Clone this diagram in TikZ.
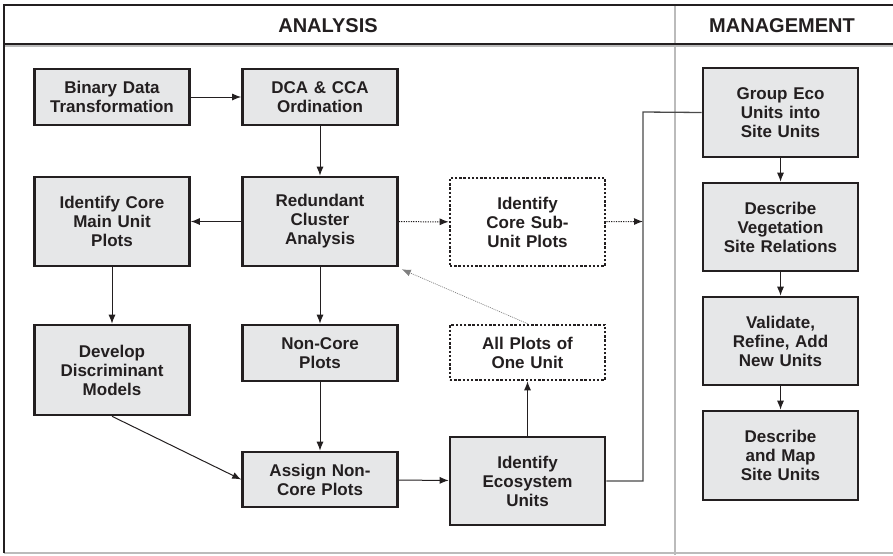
\documentclass[tikz,border=0pt]{standalone}
\usepackage{fontspec}
\setmainfont{Liberation Sans}
\usetikzlibrary{arrows.meta}
\definecolor{ink}{HTML}{231F20}
\definecolor{boxfill}{HTML}{E6E7E8}
\definecolor{rule}{HTML}{BBBBBB}
\definecolor{link}{HTML}{4A4A4A}
\tikzset{
  stepbox/.style={draw=ink, line width=2.6pt, fill=boxfill, inner sep=0pt,
    minimum width=155pt, text width=150pt, align=center, text=ink,
    font=\bfseries\fontsize{17}{19}\selectfont},
  optbox/.style={stepbox, fill=white, dash pattern=on 2.4pt off 1.8pt},
  flow/.style={draw=ink, line width=1pt, -{Latex[length=9pt,width=7pt]}},
  optflow/.style={flow, dash pattern=on 1.2pt off 1.2pt},
  hint/.style={draw=gray, line width=0.7pt, dash pattern=on 1pt off 1pt, -{Latex[length=9pt,width=7pt]}},
  head/.style={text=ink, font=\bfseries\fontsize{20}{22}\selectfont}
}
\begin{document}
\begin{tikzpicture}[x=1pt, y=-1pt]
\useasboundingbox (0,0) rectangle (893,555);
% frame and column headers
\draw[rule, line width=1.5pt] (675,5) -- (675,555);
\draw[rule, line width=1.2pt] (4,553) -- (893,553);
\draw[rule, line width=1.5pt] (4,46) -- (893,46);
\draw[ink, line width=1.8pt] (4,44) -- (893,44);
\draw[ink, line width=2.4pt] (3,5) -- (893,5);
\draw[ink, line width=2.4pt] (4,4) -- (4,553);
\node[head] (hA) at (328,26) {ANALYSIS};
\node[head] (hM) at (782,26) {MANAGEMENT};
% analysis steps
\node[stepbox, minimum height=56pt] (bin) at (112,97) {Binary Data\\Transformation};
\node[stepbox, minimum height=56pt] (dca) at (320,97) {DCA \& CCA\\Ordination};
\node[stepbox, minimum height=89pt] (core) at (112,221.5) {Identify Core\\Main Unit\\Plots};
\node[stepbox, minimum height=89pt] (red) at (320,221.5) {Redundant\\Cluster\\Analysis};
\node[optbox, minimum height=88pt] (sub) at (527.5,222) {Identify\\Core Sub-\\Unit Plots};
\node[stepbox, minimum height=90pt] (dev) at (112,370) {Develop\\Discriminant\\Models};
\node[stepbox, minimum height=56pt] (nonc) at (320,353) {Non-Core\\Plots};
\node[optbox, minimum height=55pt] (allp) at (527.5,352.5) {All Plots of\\One Unit};
\node[stepbox, minimum height=55pt] (asg) at (320,479.5) {Assign Non-\\Core Plots};
\node[stepbox, minimum height=88pt] (eco) at (527.5,481) {Identify\\Ecosystem\\Units};
% management steps
\node[stepbox, minimum height=89pt] (grp) at (780.5,112.5) {Group Eco\\Units into\\Site Units};
\node[stepbox, minimum height=88pt] (veg) at (780.5,227) {Describe\\Vegetation\\Site Relations};
\node[stepbox, minimum height=88pt] (val) at (780.5,341) {Validate,\\Refine, Add\\New Units};
\node[stepbox, minimum height=89pt] (map) at (780.5,455.5) {Describe\\and Map\\Site Units};
% junction column
\coordinate (jb) at (643,481);
\coordinate (jt) at (643,112);
\coordinate (jm) at (643,221.5);
% connectors
\draw[flow] (bin) -- (dca);
\draw[flow] (dca) -- (red);
\draw[flow] (red) -- (core);
\draw[flow] (core) -- (dev);
\draw[flow] (red) -- (nonc);
\draw[flow] (nonc) -- (asg);
\draw[flow] (dev.south) -- (asg.west);
\draw[flow] (asg) -- (eco);
\draw[flow] (eco) -- (allp);
\draw[hint] (allp.north) -- ([xshift=3pt,yshift=-2pt]red.south east);
\draw[optflow] (red) -- (sub);
\draw[optflow] (sub) -- (jm);
\draw[link, line width=1.3pt] (eco.east) -- (jb) -- (jt) -- (grp.west);
\draw[flow] (grp) -- (veg);
\draw[flow] (veg) -- (val);
\draw[flow] (val) -- (map);
\end{tikzpicture}
\end{document}
